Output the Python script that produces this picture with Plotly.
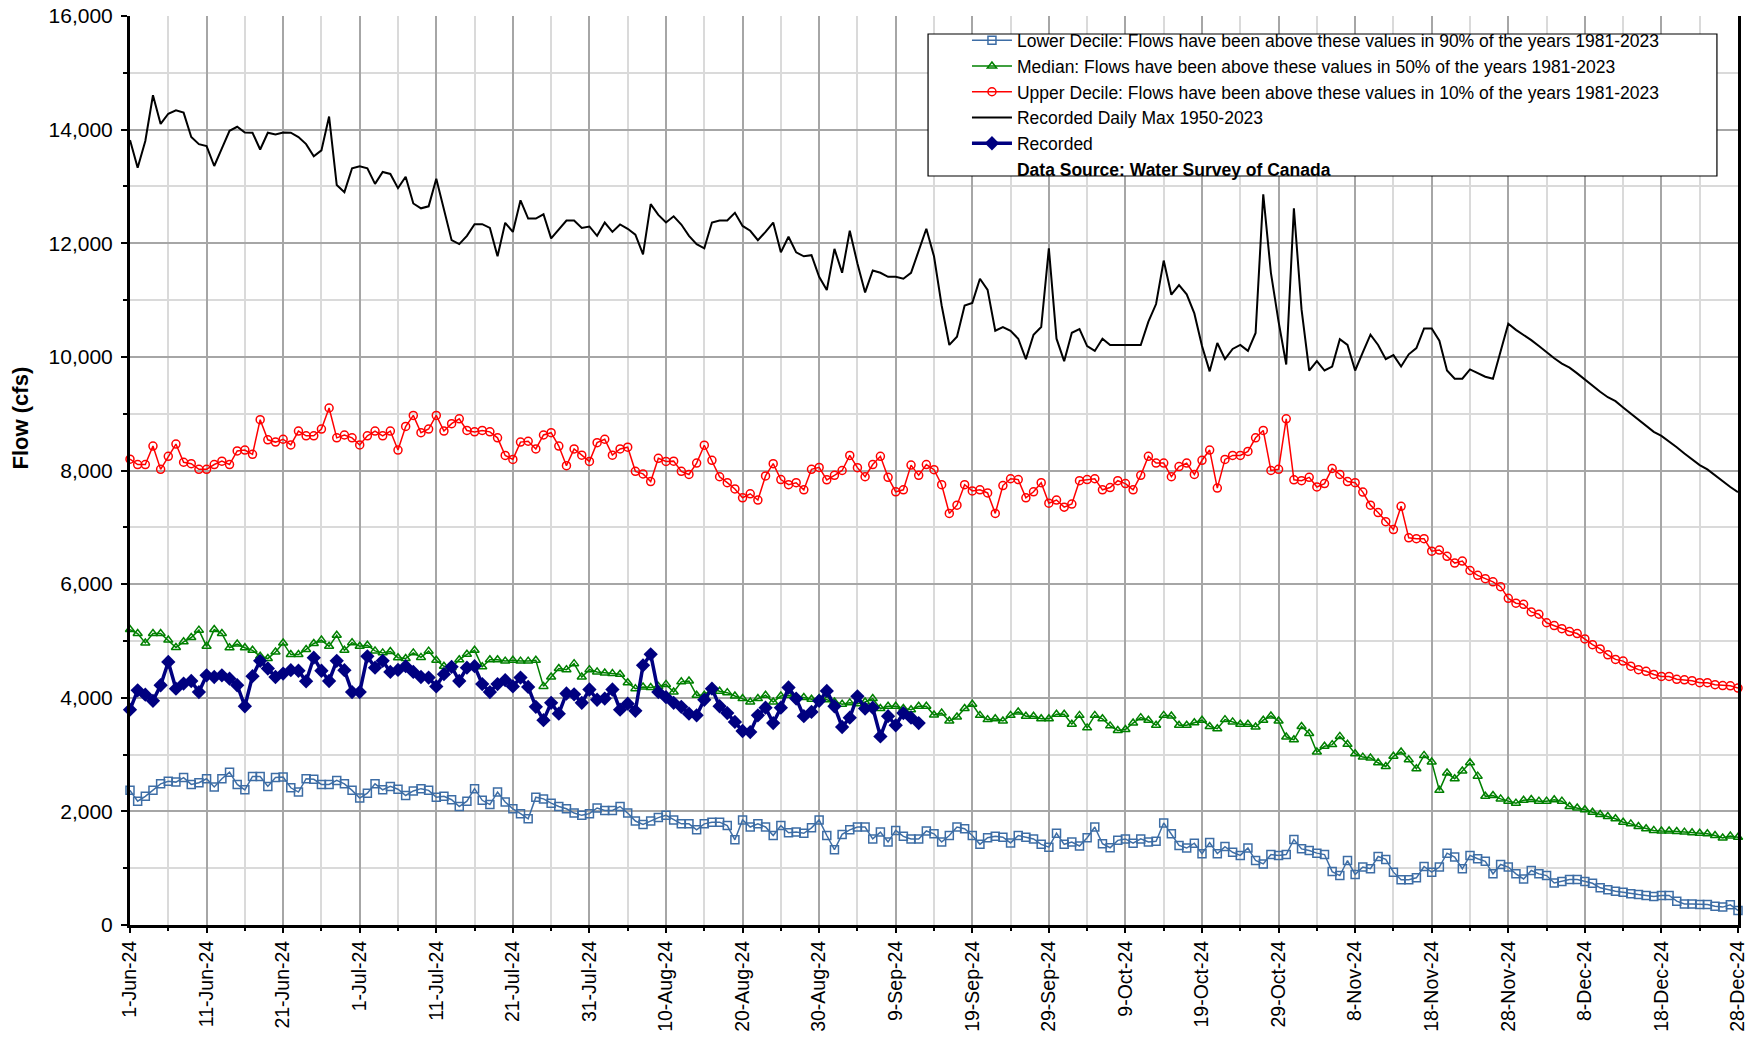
import pandas as pd
import plotly.graph_objects as go

START_DATE = "2024-06-01"
N_DAYS = 211

TICK_LABELS = ["1-Jun-24", "11-Jun-24", "21-Jun-24", "1-Jul-24", "11-Jul-24", "21-Jul-24",
               "31-Jul-24", "10-Aug-24", "20-Aug-24", "30-Aug-24", "9-Sep-24", "19-Sep-24",
               "29-Sep-24", "9-Oct-24", "19-Oct-24", "29-Oct-24", "8-Nov-24", "18-Nov-24",
               "28-Nov-24", "8-Dec-24", "18-Dec-24", "28-Dec-24"]

max_flow = [
    13815, 13330, 13800, 14605, 14100, 14280, 14340, 14300, 13870, 13745,
    13710, 13360, 13670, 13980, 14050, 13950, 13945, 13650, 13945, 13915,
    13950, 13945, 13870, 13745, 13530, 13635, 14230, 13025, 12900, 13320,
    13355, 13320, 13045, 13255, 13220, 12970, 13170, 12700, 12615, 12650,
    13135, 12595, 12055, 11985, 12130, 12335, 12335, 12270, 11770, 12360,
    12200, 12755, 12435, 12435, 12510, 12085, 12235, 12400, 12400, 12270,
    12295, 12130, 12365, 12200, 12330, 12255, 12150, 11805, 12690, 12500,
    12365, 12475, 12330, 12130, 11985, 11910, 12365, 12400, 12400, 12535,
    12305, 12220, 12055, 12200, 12365, 11840, 12115, 11840, 11770, 11790,
    11410, 11175, 11900, 11480, 12220, 11645, 11135, 11520, 11480, 11410,
    11410, 11375, 11480, 11875, 12255, 11770, 10905, 10210, 10355, 10905,
    10950, 11375, 11180, 10460, 10525, 10460, 10320, 9960, 10390, 10525,
    11910, 10320, 9925, 10425, 10490, 10190, 10105, 10320, 10210, 10210,
    10210, 10210, 10210, 10620, 10930, 11695, 11095, 11265, 11100, 10765,
    10190, 9745, 10245, 9960, 10140, 10210, 10105, 10420, 12860, 11480,
    10620, 9865, 12615, 10835, 9760, 9925, 9760, 9830, 10310, 10210,
    9760, 10080, 10390, 10210, 9960, 10030, 9830, 10045, 10155, 10500,
    10500, 10285, 9760, 9615, 9615, 9780, 9720, 9650, 9615, 10100,
    10585, 10475, 10390, 10295, 10190, 10080, 9975, 9880, 9810, 9710,
    9600, 9495, 9385, 9290, 9220, 9110, 9005, 8895, 8790, 8680,
    8610, 8515, 8410, 8300, 8195, 8095, 8020, 7915, 7820, 7710, 7620]

upper_decile = [
    8200, 8105, 8105, 8430, 8020, 8250, 8465, 8145, 8120, 8020,
    8020, 8105, 8165, 8105, 8345, 8360, 8285, 8895, 8540, 8500,
    8550, 8450, 8695, 8610, 8610, 8730, 9100, 8575, 8625, 8575,
    8450, 8610, 8695, 8610, 8695, 8360, 8775, 8970, 8665, 8730,
    8970, 8695, 8825, 8910, 8705, 8680, 8705, 8680, 8575, 8265,
    8195, 8500, 8515, 8380, 8625, 8665, 8430, 8085, 8380, 8270,
    8160, 8490, 8550, 8270, 8380, 8410, 7985, 7940, 7805, 8215,
    8160, 8165, 7985, 7930, 8130, 8445, 8180, 7890, 7785, 7675,
    7520, 7590, 7480, 7905, 8120, 7840, 7750, 7785, 7660, 8020,
    8055, 7835, 7915, 8000, 8265, 8050, 7890, 8105, 8250, 7880,
    7625, 7660, 8095, 7915, 8105, 8015, 7750, 7245, 7390, 7750,
    7640, 7660, 7605, 7245, 7735, 7855, 7840, 7520, 7625, 7785,
    7425, 7480, 7355, 7410, 7820, 7840, 7855, 7660, 7700, 7820,
    7770, 7660, 7915, 8250, 8130, 8130, 7890, 8070, 8130, 7930,
    8180, 8360, 7690, 8195, 8265, 8265, 8335, 8575, 8705, 8000,
    8020, 8910, 7835, 7820, 7880, 7710, 7770, 8035, 7930, 7805,
    7785, 7620, 7390, 7260, 7100, 6960, 7370, 6815, 6800, 6800,
    6580, 6600, 6490, 6370, 6405, 6240, 6155, 6095, 6040, 5955,
    5750, 5665, 5645, 5510, 5470, 5320, 5270, 5215, 5165, 5130,
    5035, 4935, 4860, 4755, 4675, 4645, 4555, 4495, 4465, 4410,
    4375, 4375, 4325, 4315, 4300, 4265, 4265, 4230, 4215, 4210, 4170]

median = [
    5200, 5130, 4965, 5130, 5130, 5015, 4885, 4985, 5060, 5190,
    4905, 5200, 5130, 4880, 4945, 4880, 4835, 4730, 4690, 4805,
    4965, 4760, 4760, 4850, 4955, 5015, 4905, 5100, 4835, 4970,
    4905, 4925, 4825, 4790, 4815, 4705, 4690, 4790, 4710, 4820,
    4660, 4555, 4530, 4670, 4765, 4835, 4545, 4670, 4670, 4645,
    4660, 4645, 4645, 4660, 4200, 4365, 4515, 4495, 4600, 4365,
    4495, 4455, 4435, 4425, 4415, 4265, 4160, 4190, 4180, 4200,
    4235, 4100, 4280, 4295, 4045, 4045, 4160, 4115, 4090, 4030,
    3985, 3925, 3985, 4045, 3925, 4030, 4045, 4005, 4005, 3975,
    3985, 3965, 3925, 3885, 3910, 3895, 3925, 3985, 3810, 3850,
    3850, 3810, 3790, 3850, 3850, 3695, 3730, 3590, 3660, 3810,
    3885, 3690, 3615, 3630, 3590, 3690, 3750, 3675, 3675, 3630,
    3630, 3710, 3710, 3535, 3690, 3470, 3690, 3630, 3505, 3425,
    3440, 3555, 3650, 3605, 3515, 3690, 3680, 3515, 3515, 3560,
    3605, 3495, 3455, 3615, 3575, 3535, 3535, 3485, 3605, 3680,
    3590, 3310, 3260, 3495, 3370, 3045, 3145, 3175, 3320, 3180,
    3015, 2955, 2940, 2855, 2790, 2970, 3045, 2910, 2750, 2985,
    2870, 2370, 2675, 2575, 2710, 2855, 2620, 2265, 2280, 2220,
    2180, 2145, 2195, 2210, 2180, 2180, 2205, 2180, 2085, 2060,
    2030, 1985, 1945, 1910, 1870, 1810, 1780, 1735, 1695, 1665,
    1655, 1655, 1645, 1635, 1625, 1615, 1605, 1575, 1530, 1565, 1545]

lower_decile = [
    2370, 2180, 2265, 2370, 2485, 2530, 2515, 2595, 2475, 2505,
    2575, 2430, 2575, 2690, 2475, 2380, 2615, 2615, 2440, 2595,
    2605, 2415, 2340, 2575, 2565, 2475, 2475, 2545, 2485, 2370,
    2235, 2320, 2485, 2380, 2440, 2390, 2280, 2360, 2400, 2370,
    2250, 2265, 2205, 2085, 2180, 2400, 2195, 2120, 2340, 2165,
    2045, 1960, 1870, 2250, 2220, 2145, 2085, 2045, 1970, 1930,
    1960, 2060, 2015, 2015, 2085, 1970, 1830, 1770, 1830, 1890,
    1930, 1850, 1780, 1780, 1675, 1780, 1810, 1810, 1750, 1500,
    1850, 1725, 1780, 1725, 1575, 1750, 1625, 1635, 1615, 1710,
    1850, 1575, 1325, 1595, 1675, 1725, 1725, 1515, 1635, 1460,
    1665, 1560, 1515, 1515, 1655, 1605, 1460, 1575, 1725, 1695,
    1575, 1420, 1535, 1560, 1545, 1445, 1575, 1545, 1515, 1420,
    1370, 1615, 1420, 1460, 1390, 1535, 1725, 1430, 1360, 1490,
    1515, 1440, 1515, 1460, 1475, 1795, 1605, 1400, 1355, 1440,
    1255, 1450, 1255, 1380, 1280, 1225, 1355, 1135, 1075, 1240,
    1225, 1240, 1505, 1340, 1310, 1265, 1240, 940, 870, 1135,
    890, 1020, 990, 1205, 1155, 930, 795, 795, 830, 1030,
    930, 1020, 1265, 1195, 990, 1225, 1165, 1120, 900, 1065,
    1020, 900, 810, 960, 900, 870, 740, 765, 800, 800,
    765, 735, 655, 620, 595, 575, 550, 535, 520, 500,
    520, 520, 420, 370, 370, 360, 360, 330, 315, 355, 255]

recorded = [
    3790, 4130, 4055, 3945, 4220, 4630, 4160, 4250, 4295, 4100,
    4395, 4365, 4395, 4335, 4220, 3850, 4380, 4650, 4515, 4365,
    4425, 4485, 4475, 4290, 4705, 4475, 4295, 4650, 4485, 4100,
    4100, 4730, 4530, 4650, 4455, 4490, 4555, 4455, 4365, 4355,
    4200, 4415, 4545, 4295, 4530, 4555, 4240, 4100, 4240, 4310,
    4200, 4355, 4190, 3840, 3605, 3910, 3720, 4075, 4060, 3910,
    4145, 3965, 3985, 4145, 3790, 3895, 3770, 4570, 4765, 4100,
    4010, 3910, 3840, 3720, 3690, 3965, 4160, 3850, 3730, 3575,
    3415, 3395, 3690, 3825, 3555, 3825, 4180, 3985, 3675, 3750,
    3945, 4120, 3850, 3485, 3650, 4025, 3810, 3825, 3320, 3675,
    3515, 3730, 3650, 3555]

dates = pd.date_range(START_DATE, periods=N_DAYS, freq="D")
rec_dates = dates[:len(recorded)]
tick_vals = dates[::10]

FONT = "Arial, Liberation Sans, sans-serif"

fig = go.Figure()
fig.add_trace(go.Scatter(
    x=dates, y=lower_decile, mode="lines+markers",
    name="Lower Decile: Flows have been above these values in 90% of the years 1981-2023",
    line=dict(color="#3D6DA5", width=1.5),
    marker=dict(symbol="square-open", size=8, color="#3D6DA5", line=dict(width=1.5)),
    cliponaxis=False))
fig.add_trace(go.Scatter(
    x=dates, y=median, mode="lines+markers",
    name="Median: Flows have been above these values in 50% of the years 1981-2023",
    line=dict(color="#008000", width=1.5),
    marker=dict(symbol="triangle-up-open", size=8, color="#008000", line=dict(width=1.5)),
    cliponaxis=False))
fig.add_trace(go.Scatter(
    x=dates, y=upper_decile, mode="lines+markers",
    name="Upper Decile: Flows have been above these values in 10% of the years 1981-2023",
    line=dict(color="#FF0000", width=1.5),
    marker=dict(symbol="circle-open", size=8, color="#FF0000", line=dict(width=1.5)),
    cliponaxis=False))
fig.add_trace(go.Scatter(
    x=dates, y=max_flow, mode="lines",
    name="Recorded Daily Max 1950-2023",
    line=dict(color="#000000", width=2),
    cliponaxis=False))
fig.add_trace(go.Scatter(
    x=rec_dates, y=recorded, mode="lines+markers",
    name="Recorded",
    line=dict(color="#000080", width=3.5),
    marker=dict(symbol="diamond", size=11, color="#000080"),
    cliponaxis=False))
fig.add_trace(go.Scatter(
    x=[None], y=[None], mode="lines",
    name="<b>Data Source: Water Survey of Canada</b>",
    line=dict(color="rgba(0,0,0,0)", width=0)))

fig.update_layout(
    width=1760, height=1044,
    margin=dict(l=130, r=22, t=16, b=119, autoexpand=False),
    paper_bgcolor="white", plot_bgcolor="white",
    font=dict(family=FONT, color="black", size=16),
    showlegend=True,
    legend=dict(x=0.5205, y=0.993, xanchor="left", yanchor="top",
                bgcolor="rgba(0,0,0,0)", borderwidth=0,
                font=dict(family=FONT, size=17.5, color="black"),
                tracegroupgap=0, itemwidth=40),
    shapes=[dict(type="rect", xref="paper", yref="paper",
                 x0=0.4963, x1=0.9869, y0=0.824, y1=0.9802,
                 fillcolor="white", line=dict(color="black", width=1.2),
                 layer="above")],
    annotations=[dict(text="<b>Flow (cfs)</b>", x=-0.068, y=0.558,
                      xref="paper", yref="paper", textangle=-90,
                      showarrow=False, font=dict(family=FONT, size=22, color="black"),
                      xanchor="center", yanchor="middle")],
)

fig.update_xaxes(
    type="date", automargin=False,
    range=[dates[0], dates[-1]],
    tickvals=tick_vals, ticktext=TICK_LABELS,
    tickangle=-90, tickfont=dict(family=FONT, size=19.5, color="black"),
    showline=True, linewidth=3, linecolor="black", mirror=False,
    ticks="outside", ticklen=5, tickwidth=1.5, tickcolor="black",
    showgrid=True, gridcolor="#A6A6A6", gridwidth=1.5,
    minor=dict(dtick=5 * 86400000, tick0=dates[0], showgrid=True,
               gridcolor="#DADADA", gridwidth=1.5, ticks="outside",
               ticklen=3, tickcolor="black"),
    zeroline=False,
)
fig.update_yaxes(
    automargin=False,
    range=[0, 16000], dtick=2000, tick0=0, tickformat=",d",
    tickfont=dict(family=FONT, size=21, color="black"),
    ticklabelstandoff=4,
    showline=True, linewidth=3, linecolor="black", mirror=True,
    ticks="outside", ticklen=6, tickwidth=1.5, tickcolor="black",
    showgrid=True, gridcolor="#A6A6A6", gridwidth=1.5,
    minor=dict(dtick=1000, showgrid=True, gridcolor="#DADADA", gridwidth=1.5,
               ticks="outside", ticklen=4, tickcolor="black"),
    zeroline=False,
)

fig.write_html("out.html", config={"displayModeBar": False},
               post_script="document.body.style.margin='0';")
